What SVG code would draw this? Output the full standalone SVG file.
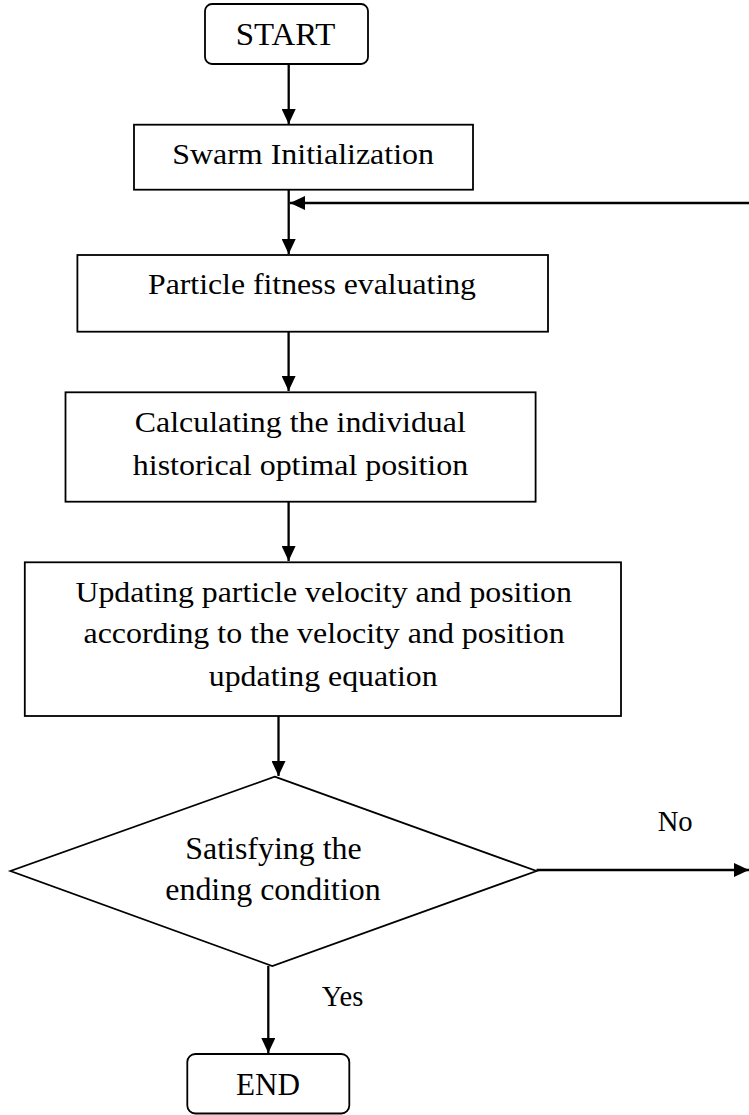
<svg xmlns="http://www.w3.org/2000/svg" width="749" height="1115" viewBox="0 0 749 1115">
<style>
.box{fill:#fff;stroke:#000;stroke-width:1.8}
.t{font-family:"Liberation Serif","Times New Roman",serif;fill:#000;text-anchor:middle}
.c{fill:none;stroke:#000;stroke-width:2.3}
</style>
<defs>
<marker id="ah" markerUnits="userSpaceOnUse" markerWidth="15" markerHeight="14" refX="15" refY="7" orient="auto">
<path d="M0,0 L15,7 L0,14 z" fill="#000"/>
</marker>
</defs>
<rect width="749" height="1115" fill="#fff"/>
<g id="connectors">
<line class="c" x1="288.7" y1="64" x2="288.7" y2="124" marker-end="url(#ah)"/>
<line class="c" x1="288.7" y1="190" x2="288.7" y2="254" marker-end="url(#ah)"/>
<line class="c" x1="749" y1="203" x2="290" y2="203" marker-end="url(#ah)"/>
<line class="c" x1="288.6" y1="332" x2="288.6" y2="391" marker-end="url(#ah)"/>
<line class="c" x1="288.6" y1="502" x2="288.6" y2="561" marker-end="url(#ah)"/>
<line class="c" x1="278.5" y1="716" x2="278.5" y2="776" marker-end="url(#ah)"/>
<line class="c" x1="536.5" y1="870" x2="749" y2="870" marker-end="url(#ah)"/>
<line class="c" x1="268.3" y1="966" x2="268.3" y2="1053" marker-end="url(#ah)"/>
<text class="t" x="675.2" y="830.7" font-size="29" textLength="35" lengthAdjust="spacingAndGlyphs">No</text>
<text class="t" x="342.5" y="1005.7" font-size="29" textLength="41.6" lengthAdjust="spacingAndGlyphs">Yes</text>
</g>
<g id="start">
<rect class="box" x="205" y="4" width="163" height="60" rx="7"/>
<text class="t" x="285.5" y="45" font-size="31" textLength="99.5" lengthAdjust="spacingAndGlyphs">START</text>
</g>
<g id="swarm-init">
<rect class="box" x="134" y="124.7" width="339" height="65"/>
<text class="t" x="303.1" y="164.3" font-size="29" textLength="261.8" lengthAdjust="spacingAndGlyphs">Swarm Initialization</text>
</g>
<g id="fitness">
<rect class="box" x="77.4" y="255" width="470.6" height="76.7"/>
<text class="t" x="312" y="294" font-size="29" textLength="328" lengthAdjust="spacingAndGlyphs">Particle fitness evaluating</text>
</g>
<g id="calc">
<rect class="box" x="65.5" y="392.3" width="470.1" height="109.4"/>
<text class="t" x="300.3" y="431.7" font-size="29" textLength="331" lengthAdjust="spacingAndGlyphs">Calculating the individual</text>
<text class="t" x="300.5" y="475" font-size="29" textLength="335.4" lengthAdjust="spacingAndGlyphs">historical optimal position</text>
</g>
<g id="update">
<rect class="box" x="24.8" y="562.3" width="596.2" height="153.7"/>
<text class="t" x="323.7" y="601.7" font-size="29" textLength="496.5" lengthAdjust="spacingAndGlyphs">Updating particle velocity and position</text>
<text class="t" x="324.1" y="643.3" font-size="29" textLength="481.1" lengthAdjust="spacingAndGlyphs">according to the velocity and position</text>
<text class="t" x="323.2" y="686" font-size="29" textLength="228.8" lengthAdjust="spacingAndGlyphs">updating equation</text>
</g>
<g id="decision">
<polygon class="box" points="274.7,776.7 536.5,871 272.3,966 10.5,871"/>
<text class="t" x="273.5" y="859" font-size="31" textLength="176.3" lengthAdjust="spacingAndGlyphs">Satisfying the</text>
<text class="t" x="273" y="900" font-size="31" textLength="215.5" lengthAdjust="spacingAndGlyphs">ending condition</text>
</g>
<g id="end">
<rect class="box" x="187.3" y="1054" width="162" height="59.5" rx="8"/>
<text class="t" x="268" y="1095" font-size="31" textLength="64" lengthAdjust="spacingAndGlyphs">END</text>
</g>
</svg>
